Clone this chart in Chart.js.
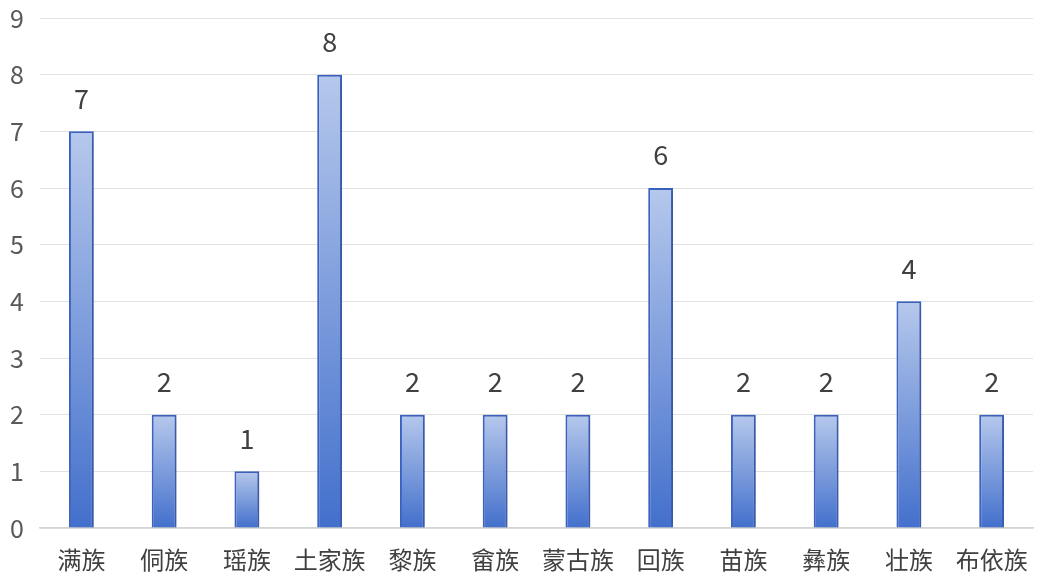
<!DOCTYPE html>
<html>
<head>
<meta charset="utf-8">
<script src="https://cdn.jsdelivr.net/npm/chart.js@4/dist/chart.umd.min.js"></script>
<style>
  html, body { margin: 0; padding: 0; background: #fff; }
  #wrap { width: 1046px; height: 583px; }
</style>
</head>
<body>
<div id="wrap"><canvas id="chart_nation"></canvas></div>
<script>
var nation_keys = ["满族", "侗族", "瑶族", "土家族", "黎族", "畲族", "蒙古族", "回族", "苗族", "彝族", "壮族", "布依族"];
var nation_values = [7, 2, 1, 8, 2, 2, 2, 6, 2, 2, 4, 2];
var y_ticks = [0, 1, 2, 3, 4, 5, 6, 7, 8, 9];

var fontName = "'Noto Sans CJK SC', 'Noto Sans', sans-serif";

// each bar gets its own gradient, light on top, darker at the base
function barGradient(context) {
    var chart = context.chart;
    var y = chart.scales.y;
    if (!y || context.raw === undefined) return '#7a9bdc';
    var top = y.getPixelForValue(context.raw);
    var base = y.getPixelForValue(0);
    if (!isFinite(top) || !isFinite(base) || top === base) return '#7a9bdc';
    var g = chart.ctx.createLinearGradient(0, top, 0, base);
    g.addColorStop(0, '#b6c8ec');
    g.addColorStop(1, '#4370cc');
    return g;
}

var barShadow = {
    id: 'barShadow',
    beforeDatasetsDraw: function(chart) {
        var ctx = chart.ctx;
        ctx.save();
        ctx.shadowColor = 'rgba(50,60,100,0.3)';
        ctx.shadowBlur = 8;
        ctx.shadowOffsetX = 5;
        ctx.shadowOffsetY = 2;
    },
    afterDatasetsDraw: function(chart) {
        chart.ctx.restore();
    }
};

var valueLabels = {
    id: 'valueLabels',
    afterDatasetsDraw: function(chart) {
        var ctx = chart.ctx;
        var meta = chart.getDatasetMeta(0);
        ctx.save();
        ctx.font = "27px " + fontName;
        ctx.fillStyle = '#404040';
        ctx.textAlign = 'center';
        ctx.textBaseline = 'middle';
        meta.data.forEach(function(bar, i) {
            ctx.fillText(String(nation_values[i]), bar.x, bar.y - 33);
        });
        ctx.restore();
    }
};

var ctx1 = document.getElementById("chart_nation").getContext("2d");
var chart1 = new Chart(ctx1, {
    type: 'bar',
    data: {
        labels: nation_keys,
        datasets: [{
            data: nation_values,
            backgroundColor: barGradient,
            borderColor: '#3b63c2',
            borderWidth: 2,
            barPercentage: 0.3,
            categoryPercentage: 1.0
        }]
    },
    plugins: [barShadow, valueLabels],
    options: {
        responsive: true,
        maintainAspectRatio: false,
        animation: false,
        layout: {
            padding: { top: 18, right: 13, left: 0, bottom: 0 }
        },
        plugins: {
            legend: { display: false },
            tooltip: { enabled: false }
        },
        scales: {
            x: {
                grid: { display: false, drawTicks: false },
                border: { color: '#d4d4d4', width: 1.5 },
                afterFit: function(axis) { axis.height = 55; },
                ticks: {
                    color: '#404040',
                    padding: 17,
                    font: { family: fontName, size: 24 }
                }
            },
            y: {
                min: 0,
                max: 9,
                afterBuildTicks: function(axis) {
                    axis.ticks = y_ticks.map(function(v) { return { value: v }; });
                },
                afterFit: function(axis) {
                    axis.width = 40;
                    axis.paddingTop = 0;
                    axis.paddingBottom = 0;
                },
                grid: { color: '#e2e2e2', drawTicks: false },
                border: { display: false },
                ticks: {
                    color: '#595959',
                    padding: 16,
                    font: { family: fontName, size: 25 }
                }
            }
        }
    }
});
chart1.update();
</script>
</body>
</html>
